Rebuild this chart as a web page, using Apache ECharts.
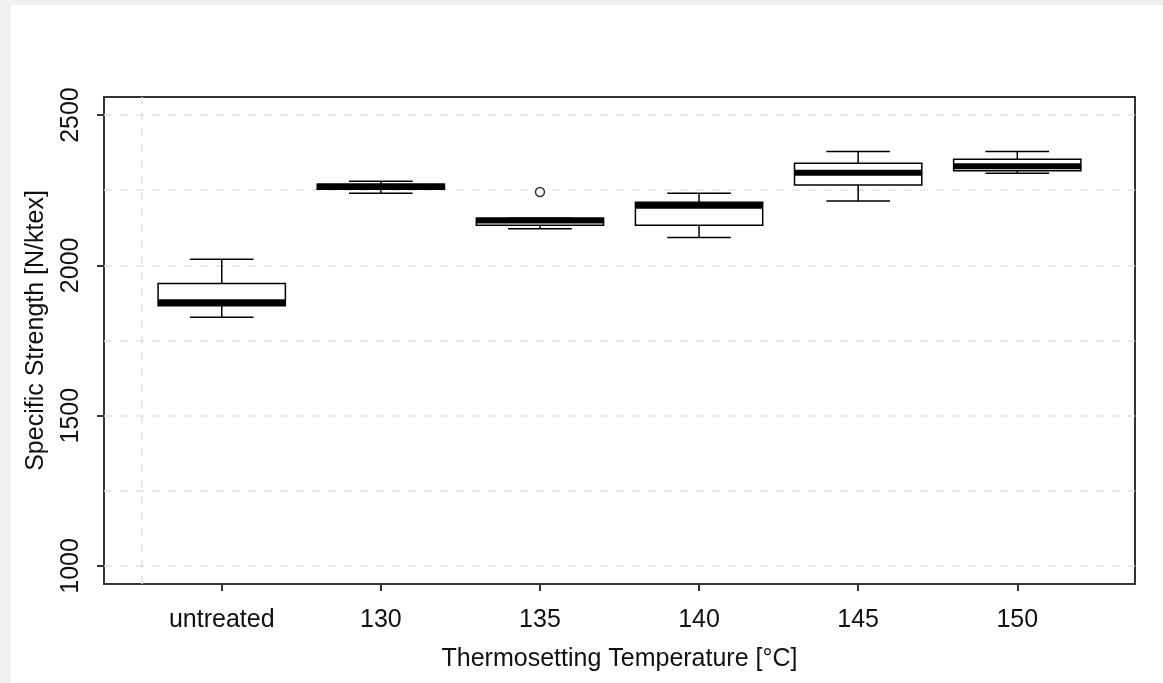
<!DOCTYPE html>
<html>
<head>
<meta charset="utf-8">
<script src="https://cdn.jsdelivr.net/npm/echarts@6/dist/echarts.min.js"></script>
<style>
html,body{margin:0;padding:0;background:#f0f0f0;width:1163px;height:683px;overflow:hidden;}
#chart{position:absolute;left:11px;top:5px;width:1152px;height:678px;background:#ffffff;}
</style>
</head>
<body>
<div id="chart"></div>
<script>
// ---- data ----
var categories = ['untreated', '130', '135', '140', '145', '150'];
var whiskerLow  = [1827, 2240, 2122, 2093, 2214, 2306];
var q1          = [1866, 2253, 2133, 2133, 2267, 2315];
var median      = [1877, 2262, 2149, 2198, 2308, 2330];
var q3          = [1940, 2270, 2157, 2210, 2340, 2353];
var whiskerHigh = [2020, 2280, 2157, 2240, 2379, 2379];
var outliers = [[3, 2244]]; // [category position (1-based), value]
var yTickValues = [1000, 1500, 2000, 2500];
var yGridValues = [1000, 1250, 1500, 1750, 2000, 2250, 2500];
var xGridValues = [0.5];

var boxData = categories.map(function (c, i) {
  return [i + 1, whiskerLow[i], q1[i], median[i], q3[i], whiskerHigh[i]];
});
var xPositions = categories.map(function (c, i) { return i + 1; });

var FONT = '"Liberation Sans", Arial, sans-serif';
var FS = 25;
var chart = echarts.init(document.getElementById('chart'));

function renderBox(params, api) {
  var x = api.value(0);
  var pLow = api.coord([x, api.value(1)]);
  var pQ1 = api.coord([x, api.value(2)]);
  var pMed = api.coord([x, api.value(3)]);
  var pQ3 = api.coord([x, api.value(4)]);
  var pHigh = api.coord([x, api.value(5)]);
  var boxW = api.size([0.8, 0])[0];
  var capW = api.size([0.4, 0])[0];
  var cx = pMed[0];
  var stroke = { stroke: '#000', lineWidth: 1.5, fill: null };
  return {
    type: 'group',
    children: [
      { type: 'line', shape: { x1: cx, y1: pHigh[1], x2: cx, y2: pQ3[1] }, style: stroke },
      { type: 'line', shape: { x1: cx, y1: pLow[1], x2: cx, y2: pQ1[1] }, style: stroke },
      { type: 'line', shape: { x1: cx - capW / 2, y1: pHigh[1], x2: cx + capW / 2, y2: pHigh[1] }, style: stroke },
      { type: 'line', shape: { x1: cx - capW / 2, y1: pLow[1], x2: cx + capW / 2, y2: pLow[1] }, style: stroke },
      { type: 'rect', shape: { x: cx - boxW / 2, y: pQ3[1], width: boxW, height: pQ1[1] - pQ3[1] },
        style: { stroke: '#000', lineWidth: 1.5, fill: '#fff' } },
      { type: 'line', shape: { x1: cx - boxW / 2, y1: pMed[1], x2: cx + boxW / 2, y2: pMed[1] },
        style: { stroke: '#000', lineWidth: 6 } }
    ]
  };
}

var gridLineStyle = { color: '#e3e3e3', type: [8, 8], width: 1.5 };

var option = {
  animation: false,
  backgroundColor: '#ffffff',
  textStyle: { fontFamily: FONT },
  grid: {
    left: 93, top: 92, width: 1031, height: 487,
    show: true, borderColor: '#333', borderWidth: 2, backgroundColor: '#fff'
  },
  xAxis: {
    type: 'value', min: 0.26, max: 6.74,
    axisLine: { show: false },
    splitLine: { show: false },
    axisTick: { show: true, customValues: xPositions, length: 7, lineStyle: { color: '#333', width: 2 } },
    axisLabel: {
      customValues: xPositions, margin: 24, fontSize: FS, color: '#111', fontFamily: FONT,
      formatter: function (v) { return categories[Math.round(v) - 1] || ''; }
    },
    name: 'Thermosetting Temperature [°C]',
    nameLocation: 'middle', nameGap: 63,
    nameTextStyle: { fontSize: FS, color: '#111', fontFamily: FONT }
  },
  yAxis: {
    type: 'value', min: 940, max: 2560,
    axisLine: { show: false },
    splitLine: { show: false },
    axisTick: { show: true, customValues: yTickValues, length: 7, lineStyle: { color: '#333', width: 2 } },
    axisLabel: {
      customValues: yTickValues, rotate: 90, margin: 20, fontSize: FS, color: '#111', fontFamily: FONT,
      formatter: function (v) { return String(v); }
    },
    name: 'Specific Strength [N/ktex]',
    nameLocation: 'middle', nameGap: 55, nameRotate: 90,
    nameTextStyle: { fontSize: FS, color: '#111', fontFamily: FONT, padding: [0, 0, 0, 20] }
  },
  series: [
    {
      type: 'line', data: [], silent: true, z: 1,
      markLine: {
        silent: true, symbol: ['none', 'none'], label: { show: false },
        lineStyle: gridLineStyle,
        data: yGridValues.map(function (v) { return { yAxis: v }; })
          .concat(xGridValues.map(function (v) { return { xAxis: v }; }))
      }
    },
    {
      type: 'custom', renderItem: renderBox, data: boxData, z: 5,
      encode: { x: 0, y: [1, 2, 3, 4, 5] }
    },
    {
      type: 'scatter', data: outliers, symbol: 'circle', symbolSize: 9, z: 6,
      itemStyle: { color: '#fff', borderColor: '#000', borderWidth: 1.5 }
    }
  ]
};
chart.setOption(option);
</script>
</body>
</html>
